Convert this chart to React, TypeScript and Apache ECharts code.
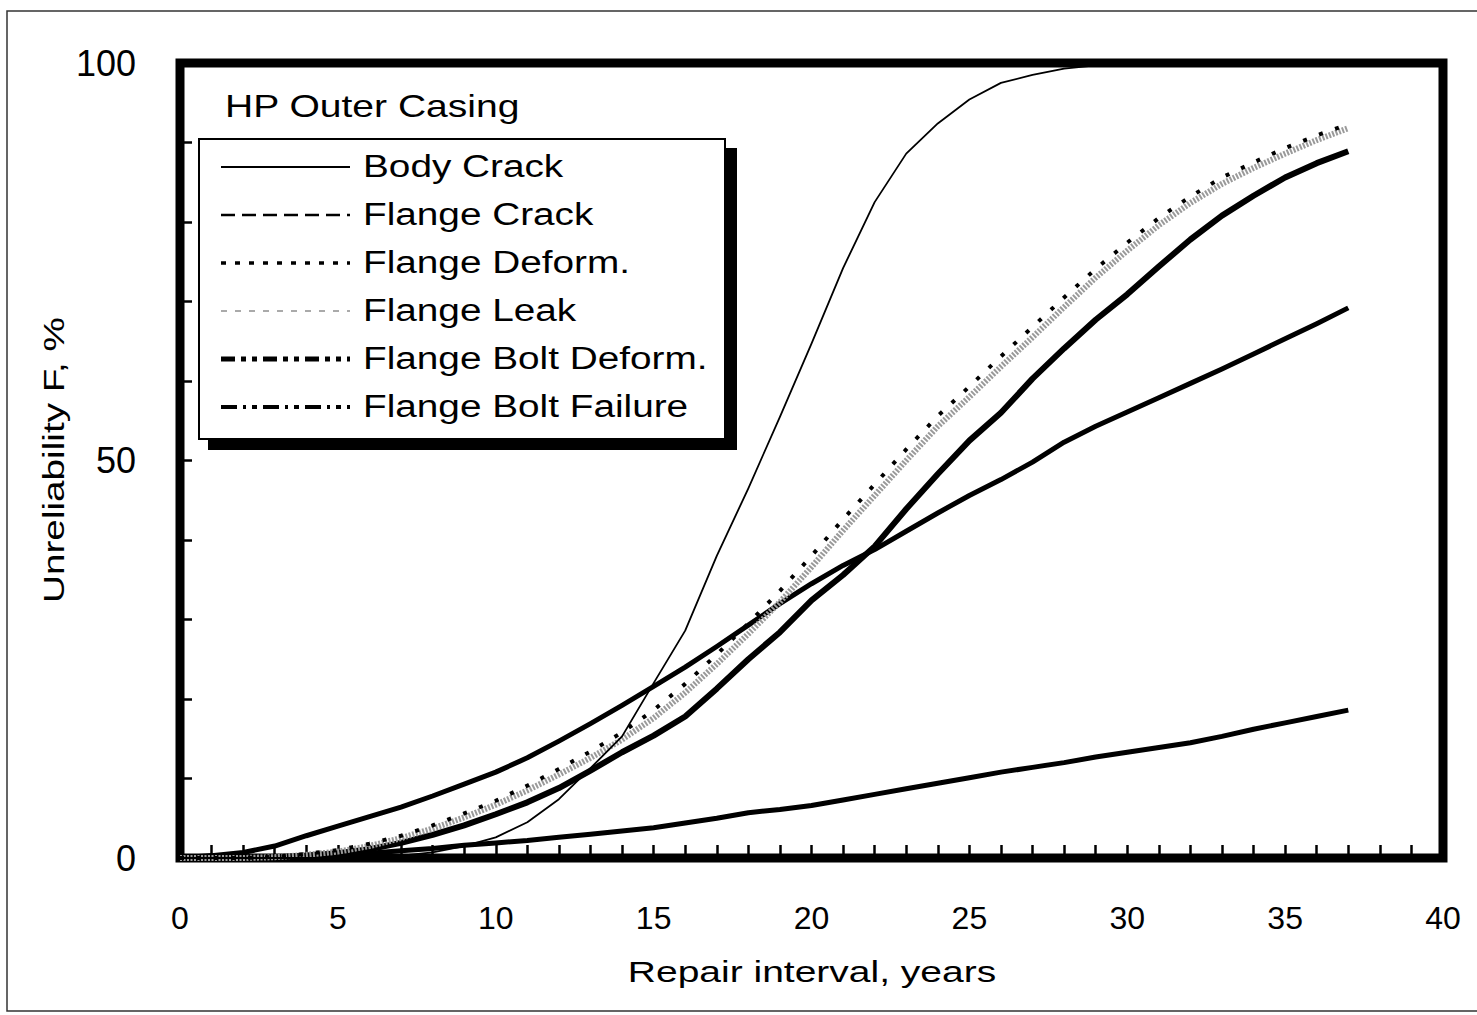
import React, { useEffect, useRef } from 'react';
import * as echarts from 'echarts';

const years = [0, 1, 2, 3, 4, 5, 6, 7, 8, 9, 10, 11, 12, 13, 14, 15, 16, 17, 18, 19, 20, 21, 22, 23, 24, 25, 26, 27, 28, 29, 30, 31, 32, 33, 34, 35, 36, 37];

const bodyCrack = [0, 0, 0, 0, 0, 0, 0.1, 0.3, 0.7, 1.5, 2.6, 4.5, 7.4, 11.3, 15.3, 22, 28.6, 38, 46.5, 55.5, 64.7, 74.2, 82.5, 88.6, 92.4, 95.4, 97.5, 98.5, 99.3, 99.7, 100, 100, 100, 100, 100, 100, 100, 100];
const flangeCrack = [0, 0.3, 0.7, 1.5, 2.8, 4.0, 5.2, 6.4, 7.8, 9.3, 10.8, 12.6, 14.7, 16.9, 19.2, 21.6, 24.0, 26.6, 29.3, 32.0, 34.5, 36.8, 38.8, 41.1, 43.4, 45.6, 47.6, 49.8, 52.3, 54.3, 56.1, 57.9, 59.7, 61.5, 63.4, 65.3, 67.2, 69.2];
const flangeDeform = [0, 0, 0, 0.15, 0.5, 1.0, 1.8, 2.8, 4.1, 5.6, 7.2, 9.1, 11.2, 13.4, 15.8, 18.6, 21.9, 25.6, 29.5, 33.6, 38.0, 42.6, 47.0, 51.4, 55.6, 59.3, 63.1, 66.8, 70.5, 74.1, 77.4, 80.5, 83.2, 85.6, 87.5, 89.3, 90.9, 92.3];
const flangeLeak = [0, 0, 0, 0.1, 0.4, 0.8, 1.5, 2.5, 3.7, 5.1, 6.7, 8.5, 10.5, 12.6, 14.9, 17.6, 20.8, 24.4, 28.2, 32.2, 36.6, 41.2, 45.6, 50.0, 54.3, 58.0, 61.8, 65.5, 69.3, 73.0, 76.4, 79.6, 82.4, 84.8, 86.8, 88.6, 90.3, 91.8];
const flangeBoltDeform = [0, 0, 0, 0.1, 0.3, 0.6, 1.1, 1.9, 2.9, 4.1, 5.5, 7.0, 8.8, 11.0, 13.3, 15.4, 17.8, 21.3, 25.0, 28.4, 32.4, 35.6, 39.2, 43.9, 48.3, 52.5, 56.0, 60.3, 64.1, 67.7, 70.9, 74.4, 77.8, 80.8, 83.3, 85.6, 87.4, 88.9];
const flangeBoltFailure = [0, 0, 0.05, 0.1, 0.25, 0.4, 0.6, 0.9, 1.2, 1.6, 1.9, 2.2, 2.6, 3.0, 3.4, 3.8, 4.4, 5.0, 5.7, 6.1, 6.6, 7.3, 8.0, 8.7, 9.4, 10.1, 10.8, 11.4, 12.0, 12.7, 13.3, 13.9, 14.5, 15.3, 16.2, 17.0, 17.8, 18.6];

const seriesNames = ['Body Crack', 'Flange Crack', 'Flange Deform.', 'Flange Leak', 'Flange Bolt Deform.', 'Flange Bolt Failure'];
const xTickLabels = [0, 5, 10, 15, 20, 25, 30, 35, 40];
const yTickLabels = [0, 50, 100];
const chartTitle = 'HP Outer Casing';
const xAxisTitle = 'Repair interval, years';
const yAxisTitle = 'Unreliability F, %';

const FONT = '"Liberation Sans", Arial, Helvetica, sans-serif';

function pairs(values: number[]) {
  return years.map((x, i) => [x, values[i]]);
}

export default function App() {
  const ref = useRef<HTMLDivElement>(null);

  useEffect(() => {
    if (!ref.current) return;
    const chart = echarts.init(ref.current, undefined, { renderer: 'svg' });

    const seriesData = [bodyCrack, flangeCrack, flangeDeform, flangeLeak, flangeBoltDeform, flangeBoltFailure];
    const plotStyles: any[] = [
      { color: '#000', width: 1.8, type: 'solid', z: 6 },
      { color: '#000', width: 5, type: 'solid', z: 3 },
      { color: '#000', width: 4, type: [4, 13], z: 5 },
      { color: '#9a9a9a', width: 6, type: [2, 1.5], z: 4 },
      { color: '#000', width: 6, type: 'solid', z: 3 },
      { color: '#000', width: 5, type: 'solid', z: 3 },
    ];
    const legendStyles: any[] = [
      { stroke: '#000', lineWidth: 2 },
      { stroke: '#000', lineWidth: 2.5, lineDash: [14, 7] },
      { stroke: '#000', lineWidth: 3.5, lineDash: [5, 9] },
      { stroke: '#aaa', lineWidth: 2, lineDash: [6, 8] },
      { stroke: '#000', lineWidth: 5, lineDash: [14, 6, 5, 6, 5, 6] },
      { stroke: '#000', lineWidth: 4, lineDash: [16, 6, 3, 6, 5, 6] },
    ];

    const legendY0 = 166;
    const legendStep = 48;
    const legendElems: any[] = [];
    seriesNames.forEach((name, i) => {
      const y = legendY0 + i * legendStep;
      legendElems.push({
        type: 'line',
        z: 12,
        shape: { x1: 221, y1: y + 1, x2: 350, y2: y + 1 },
        style: legendStyles[i],
      });
      legendElems.push({
        type: 'text',
        z: 12,
        x: 363,
        y: y,
        scaleX: 1.25,
        style: {
          text: name,
          fontSize: 31,
          fontFamily: FONT,
          fill: '#000',
          align: 'left',
          verticalAlign: 'middle',
          textAlign: 'left',
          textVerticalAlign: 'middle',
        },
      });
    });

    const option: any = {
      animation: false,
      backgroundColor: '#fff',
      grid: {
        left: 180,
        right: 34,
        top: 63,
        bottom: 157,
        show: true,
        borderColor: '#000',
        borderWidth: 9,
        backgroundColor: 'transparent',
      },
      xAxis: {
        type: 'value',
        min: 0,
        max: 40,
        interval: 1,
        axisLine: { show: false },
        splitLine: { show: false },
        axisTick: { show: true, inside: true, length: 13, lineStyle: { color: '#000', width: 2.5 } },
        axisLabel: {
          margin: 44,
          fontSize: 32,
          fontFamily: FONT,
          color: '#000',
          formatter: (v: number) => (xTickLabels.includes(v) ? String(v) : ''),
        },
      },
      yAxis: {
        type: 'value',
        min: 0,
        max: 100,
        interval: 10,
        axisLine: { show: false },
        splitLine: { show: false },
        axisTick: { show: true, inside: true, length: 12, lineStyle: { color: '#000', width: 2.5 } },
        axisLabel: {
          margin: 44,
          fontSize: 36,
          fontFamily: FONT,
          color: '#000',
          formatter: (v: number) => (yTickLabels.includes(v) ? String(v) : ''),
        },
      },
      series: seriesNames.map((name, i) => ({
        name,
        type: 'line',
        data: pairs(seriesData[i]),
        showSymbol: false,
        symbol: 'none',
        smooth: false,
        z: plotStyles[i].z,
        lineStyle: {
          color: plotStyles[i].color,
          width: plotStyles[i].width,
          type: plotStyles[i].type,
          cap: 'butt',
          join: 'round',
        },
      })),
      graphic: [
        {
          type: 'rect',
          z: 1,
          silent: true,
          shape: { x: 7, y: 11, width: 1500, height: 1000 },
          style: { fill: 'none', stroke: '#333', lineWidth: 1.5 },
        },
        {
          type: 'text',
          z: 12,
          x: 225,
          y: 106,
          scaleX: 1.26,
          style: {
            text: chartTitle,
            fontSize: 31,
            fontFamily: FONT,
            fill: '#000',
            align: 'left',
            verticalAlign: 'middle',
            textAlign: 'left',
            textVerticalAlign: 'middle',
          },
        },
        {
          type: 'rect',
          z: 10,
          shape: { x: 208, y: 148, width: 529, height: 302 },
          style: { fill: '#000' },
        },
        {
          type: 'rect',
          z: 11,
          shape: { x: 199, y: 139, width: 526, height: 300 },
          style: { fill: '#fff', stroke: '#000', lineWidth: 2 },
        },
        ...legendElems,
        {
          type: 'text',
          z: 12,
          x: 812,
          y: 972,
          scaleX: 1.3,
          style: {
            text: xAxisTitle,
            fontSize: 30,
            fontFamily: FONT,
            fill: '#000',
            align: 'center',
            verticalAlign: 'middle',
            textAlign: 'center',
            textVerticalAlign: 'middle',
          },
        },
        {
          type: 'text',
          z: 12,
          x: 54,
          y: 460,
          rotation: Math.PI / 2,
          scaleX: 1.29,
          style: {
            text: yAxisTitle,
            fontSize: 30,
            fontFamily: FONT,
            fill: '#000',
            align: 'center',
            verticalAlign: 'middle',
            textAlign: 'center',
            textVerticalAlign: 'middle',
          },
        },
      ],
    };

    chart.setOption(option);
    return () => {
      chart.dispose();
    };
  }, []);

  return (
    <div
      ref={ref}
      style={{ position: 'absolute', left: 0, top: 0, width: 1477, height: 1015, background: '#fff' }}
    />
  );
}
